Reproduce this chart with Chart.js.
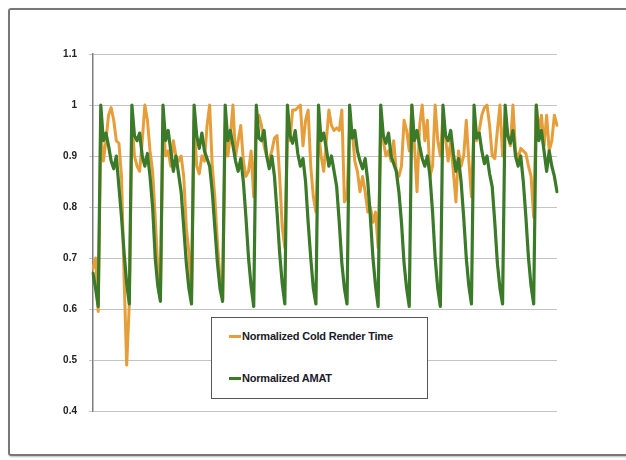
<!DOCTYPE html>
<html>
<head>
<meta charset="utf-8">
<script src="https://cdn.jsdelivr.net/npm/chart.js@4.4.0/dist/chart.umd.min.js"></script>
<style>
  body { margin: 0; background: #fff; font-family: "Liberation Sans", Arial, sans-serif; }
  #wrap { position: relative; width: 626px; height: 460px; overflow: hidden; }
  #frame {
    position: absolute; left: 8px; top: 8px; width: 640px; height: 444px;
    border: 2px solid #777; border-radius: 3px; box-shadow: 1px 1px 2px #bbb;
  }
  #chart { position: absolute; left: 0; top: 0; }
  #legend {
    position: absolute; left: 211px; top: 317px; width: 215px; height: 80px;
    border: 1px solid #555; background: #fff;
  }
  .item { position: absolute; left: 17px; display: flex; align-items: center;
    font-size: 11px; font-weight: bold; color: #1a1a28; letter-spacing: -0.2px; }
  .swatch { width: 12px; height: 3px; margin-right: 1px; }
</style>
</head>
<body>
<div id="wrap">
  <div id="frame"></div>
  <canvas id="chart" width="626" height="460"></canvas>
  <div id="legend">
    <div class="item" style="top:12px"><span class="swatch" style="background:#e69e3a"></span>Normalized Cold Render Time</div>
    <div class="item" style="top:54px"><span class="swatch" style="background:#3b7a29"></span>Normalized AMAT</div>
  </div>
</div>
<script>
// series, one value per sample
const coldRender = [
  0.68, 0.70, 0.595,
  0.95, 0.89, 0.93, 0.98, 0.995, 0.97, 0.93, 0.925, 0.86, 0.66, 0.49, 0.61,
  0.97, 0.90, 0.88, 0.87, 0.93, 1.00, 0.97, 0.91, 0.87, 0.78, 0.68, 0.62,
  0.97, 0.90, 0.91, 0.88, 0.93, 0.90, 0.89, 0.90, 0.86, 0.76, 0.71, 0.62,
  0.97, 0.88, 0.865, 0.90, 0.89, 0.96, 1.00, 0.88, 0.82, 0.73, 0.66, 0.62,
  0.96, 0.90, 0.94, 1.00, 0.90, 0.93, 0.96, 0.89, 0.86, 0.87, 0.91, 0.82,
  0.97, 0.98, 0.96, 0.92, 0.90, 0.895, 0.91, 0.935, 0.94, 0.86, 0.76, 0.72,
  0.95, 0.93, 0.99, 0.99, 0.995, 1.00, 0.92, 0.97, 0.99, 0.88, 0.82, 0.79,
  0.95, 0.90, 0.87, 0.93, 0.99, 0.96, 0.95, 0.955, 0.95, 0.99, 0.81, 0.82,
  0.96, 0.95, 0.89, 0.87, 0.83, 0.86, 0.83, 0.79, 0.80, 0.77, 0.79, 0.72,
  0.95, 0.93, 0.90, 0.91, 0.89, 0.93, 0.87, 0.86, 0.88, 0.97, 0.95, 0.91,
  1.00, 0.92, 0.83, 0.96, 1.00, 0.93, 0.97, 0.86, 0.88, 1.00, 0.93, 0.90,
  0.98, 0.935, 0.89, 0.93, 0.87, 0.81, 0.91, 0.88, 0.90, 0.97, 0.89, 0.82,
  0.96, 0.93, 0.95, 0.98, 0.995, 1.00, 0.96, 0.90, 0.895, 0.95, 1.00, 0.90,
  0.98, 0.94, 0.92, 1.00, 0.91, 0.895, 0.915, 0.91, 0.905, 0.88, 0.86, 0.78,
  1.00,
  0.95, 0.98, 0.92, 0.98, 0.91, 0.93, 0.98, 0.96
];

const amat = [
  0.67, 0.64, 0.605,
  1.00, 0.93, 0.945, 0.92, 0.89, 0.875, 0.90, 0.84, 0.78, 0.71, 0.65, 0.61,
  1.00, 0.94, 0.93, 0.945, 0.90, 0.88, 0.905, 0.86, 0.80, 0.70, 0.645, 0.615,
  1.00, 0.93, 0.95, 0.91, 0.87, 0.90, 0.865, 0.83, 0.76, 0.69, 0.64, 0.61,
  1.00, 0.94, 0.915, 0.945, 0.91, 0.895, 0.88, 0.83, 0.76, 0.69, 0.64, 0.615,
  1.00, 0.93, 0.95, 0.92, 0.89, 0.87, 0.895, 0.85, 0.78, 0.70, 0.645, 0.605,
  1.00, 0.935, 0.93, 0.95, 0.90, 0.875, 0.90, 0.86, 0.79, 0.71, 0.65, 0.61,
  1.00, 0.94, 0.925, 0.95, 0.905, 0.88, 0.895, 0.85, 0.77, 0.70, 0.64, 0.61,
  1.00, 0.93, 0.945, 0.915, 0.88, 0.90, 0.87, 0.84, 0.77, 0.69, 0.64, 0.61,
  1.00, 0.935, 0.95, 0.91, 0.89, 0.875, 0.895, 0.85, 0.78, 0.70, 0.645, 0.605,
  1.00, 0.94, 0.925, 0.945, 0.90, 0.885, 0.87, 0.83, 0.77, 0.69, 0.64, 0.605,
  1.00, 0.93, 0.95, 0.92, 0.895, 0.88, 0.90, 0.86, 0.79, 0.70, 0.64, 0.605,
  1.00, 0.94, 0.93, 0.95, 0.905, 0.87, 0.895, 0.85, 0.78, 0.70, 0.645, 0.61,
  1.00, 0.935, 0.945, 0.91, 0.885, 0.90, 0.865, 0.84, 0.77, 0.69, 0.64, 0.61,
  1.00, 0.94, 0.925, 0.95, 0.90, 0.88, 0.90, 0.85, 0.78, 0.70, 0.645, 0.61,
  1.00,
  0.93, 0.95, 0.91, 0.87, 0.91, 0.88, 0.86, 0.83
];

// the x axis carries no labels, samples are just numbered
const samples = amat.map((v, i) => i + 1);
const yTicks = [0.4, 0.5, 0.6, 0.7, 0.8, 0.9, 1, 1.1];

new Chart(document.getElementById('chart'), {
  type: 'line',
  data: {
    labels: samples,
    datasets: [{
      label: 'Normalized Cold Render Time',
      data: coldRender,
      borderColor: '#e69e3a',
      borderWidth: 3,
      borderJoinStyle: 'round',
      borderCapStyle: 'round',
      pointRadius: 0,
      tension: 0,
      order: 1
    }, {
      label: 'Normalized AMAT',
      data: amat,
      borderColor: '#3b7a29',
      borderWidth: 3.2,
      borderJoinStyle: 'round',
      borderCapStyle: 'round',
      pointRadius: 0,
      tension: 0,
      order: 0
    }]
  },
  options: {
    responsive: false,
    animation: false,
    layout: { padding: { left: 0, top: 54, right: 69, bottom: 49 } },
    plugins: { legend: { display: false }, tooltip: { enabled: false } },
    scales: {
      x: { display: false },
      y: {
        min: yTicks[0],
        max: yTicks[yTicks.length - 1],
        afterFit: (scale) => { scale.width = 93; },
        afterBuildTicks: (scale) => { scale.ticks = yTicks.map(v => ({ value: v })); },
        ticks: {
          padding: 12,
          color: '#222',
          font: { family: 'Liberation Sans, Arial', size: 10, weight: 'bold' },
          callback: (v) => String(Number(v.toFixed(1)))
        },
        grid: { color: '#c4c4c4', lineWidth: 1, tickLength: 4 },
        border: { display: true, color: '#7d7d7d', width: 1.5 }
      }
    }
  }
});
</script>
</body>
</html>
